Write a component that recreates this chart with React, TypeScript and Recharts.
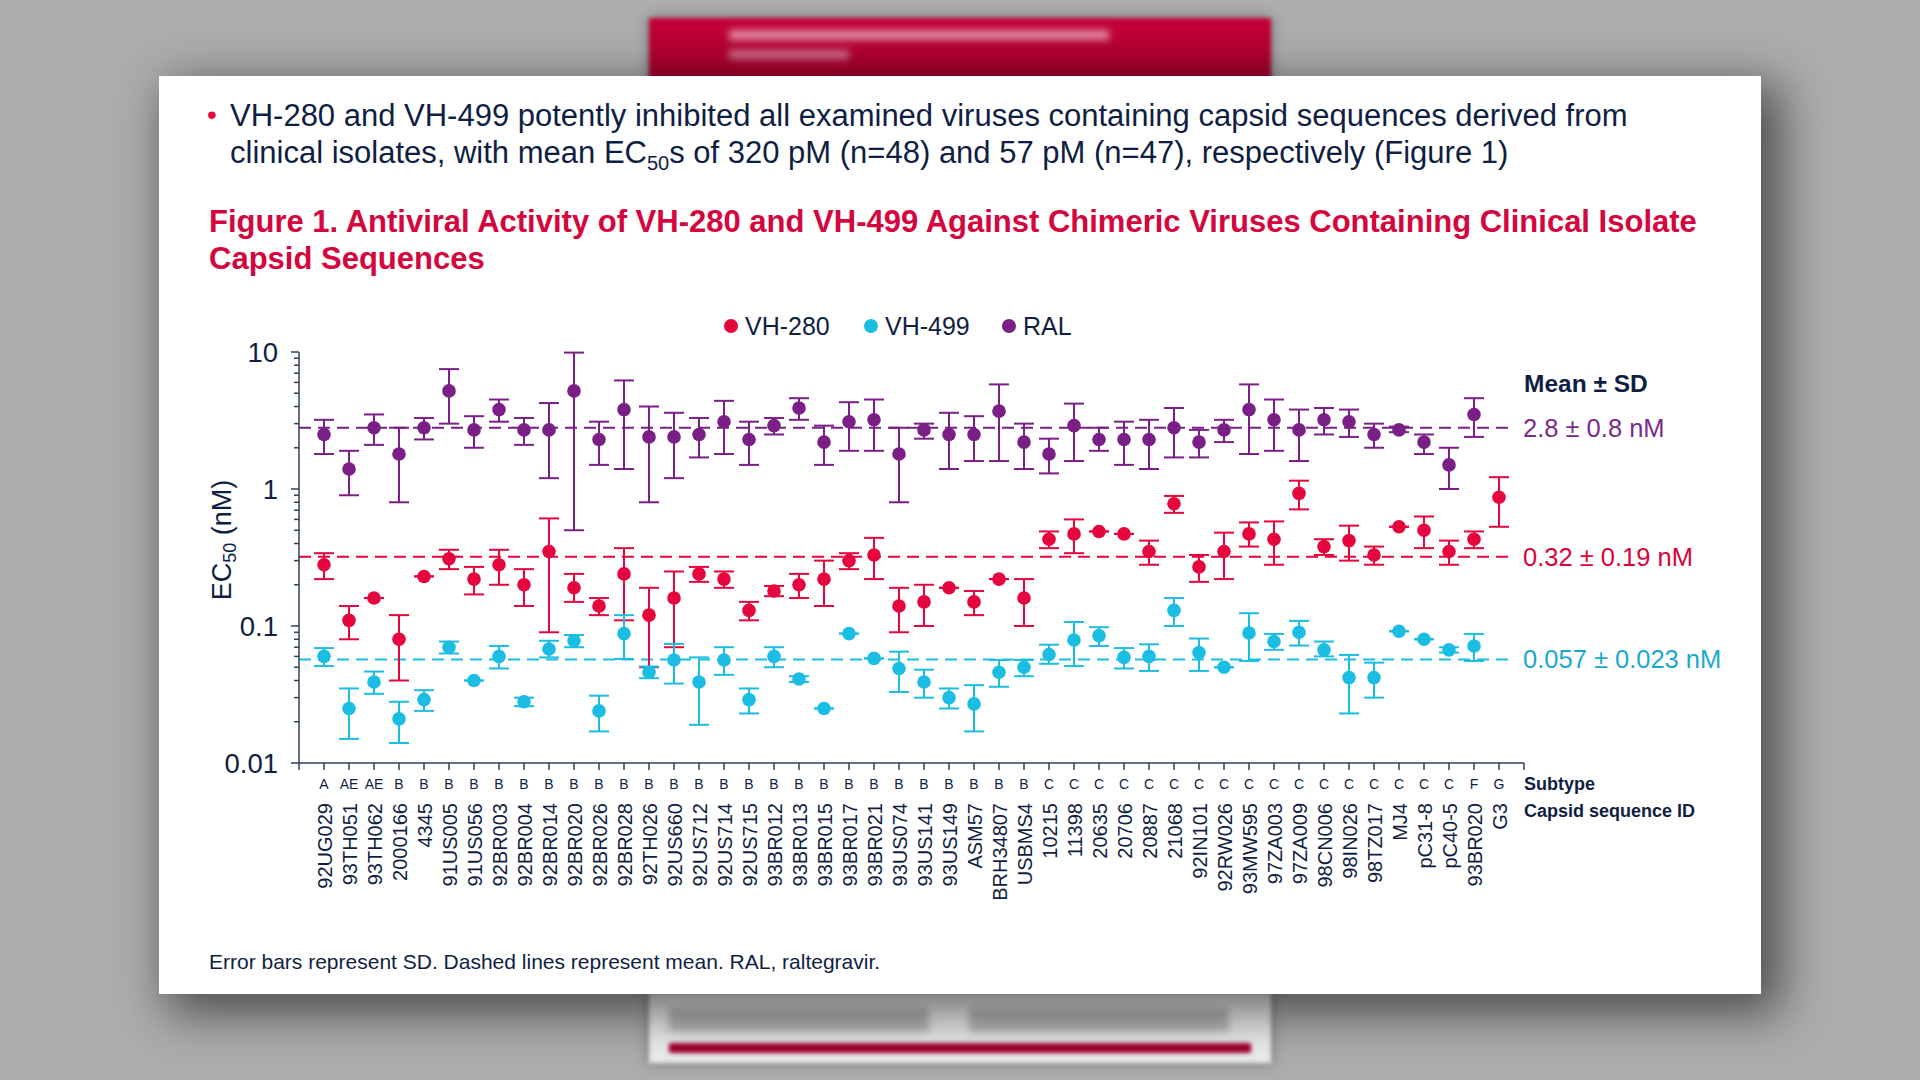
import React from 'react';
import { ScatterChart, Scatter, XAxis, YAxis, ErrorBar, ReferenceLine } from 'recharts';

const IDS = ['92UG029','93TH051','93TH062','2000166','4345','91US005','91US056','92BR003','92BR004','92BR014','92BR020','92BR026','92BR028','92TH026','92US660','92US712','92US714','92US715','93BR012','93BR013','93BR015','93BR017','93BR021','93US074','93US141','93US149','ASM57','BRH34807','USBMS4','10215','11398','20635','20706','20887','21068','92IN101','92RW026','93MW595','97ZA003','97ZA009','98CN006','98IN026','98TZ017','MJ4','pC31-8','pC40-5','93BR020','G3'];
const SUBTYPES = ['A','AE','AE','B','B','B','B','B','B','B','B','B','B','B','B','B','B','B','B','B','B','B','B','B','B','B','B','B','B','C','C','C','C','C','C','C','C','C','C','C','C','C','C','C','C','C','F','G'];

const VH280_MEAN = [0.28,0.11,0.16,0.080,0.23,0.31,0.22,0.28,0.20,0.35,0.19,0.14,0.24,0.12,0.16,0.24,0.22,0.13,0.18,0.20,0.22,0.30,0.33,0.14,0.15,0.19,0.15,0.22,0.16,0.43,0.47,0.49,0.47,0.35,0.78,0.27,0.35,0.47,0.43,0.93,0.38,0.42,0.33,0.53,0.50,0.35,0.43,0.87];
const VH280_LO = [0.22,0.080,null,0.040,null,0.26,0.17,0.20,0.14,0.090,0.15,0.12,0.11,0.050,0.070,0.21,0.19,0.11,0.165,0.16,0.14,0.26,0.22,0.090,0.10,null,0.12,null,0.10,0.37,0.34,null,null,0.28,0.67,0.21,0.22,0.38,0.28,0.71,0.33,0.30,0.28,null,0.37,0.28,0.37,0.53];
const VH280_HI = [0.34,0.14,null,0.12,null,0.36,0.27,0.36,0.26,0.61,0.24,0.16,0.37,0.19,0.25,0.27,0.25,0.15,0.196,0.24,0.30,0.34,0.44,0.19,0.20,null,0.18,null,0.22,0.49,0.60,null,null,0.42,0.89,0.33,0.48,0.57,0.58,1.15,0.43,0.54,0.38,null,0.63,0.42,0.49,1.22];

const VH499_MEAN = [0.060,0.025,0.039,0.021,0.029,0.070,0.040,0.060,0.028,0.068,0.078,0.024,0.088,0.046,0.0565,0.039,0.0565,0.029,0.060,0.041,0.025,0.088,0.058,0.049,0.039,0.030,0.027,0.046,0.050,0.062,0.079,0.085,0.059,0.060,0.13,0.064,0.050,0.089,0.077,0.090,0.067,0.042,0.042,0.0915,0.080,0.067,0.0715,null];
const VH499_LO = [0.051,0.015,0.032,0.014,0.024,0.063,null,0.049,0.026,0.059,0.070,0.017,0.0575,0.0416,0.038,0.019,0.044,0.023,0.050,0.039,null,null,null,0.033,0.030,0.025,0.017,0.036,0.043,0.053,0.051,0.0715,0.049,0.047,0.10,0.047,null,0.0556,0.067,0.072,0.060,0.023,0.030,null,null,0.064,0.0556,null];
const VH499_HI = [0.069,0.035,0.0465,0.028,0.034,0.077,null,0.0715,0.030,0.078,0.086,0.031,0.12,0.0506,0.074,0.059,0.070,0.035,0.070,0.043,null,null,null,0.065,0.048,0.035,0.037,0.0565,0.0565,0.073,0.107,0.098,0.069,0.0735,0.16,0.081,null,0.124,0.0875,0.109,0.077,0.0615,0.054,null,null,0.070,0.0875,null];

const RAL_MEAN = [2.5,1.4,2.8,1.8,2.8,5.2,2.7,3.8,2.7,2.7,5.2,2.3,3.8,2.4,2.4,2.5,3.1,2.3,2.9,3.9,2.2,3.1,3.2,1.8,2.7,2.5,2.5,3.7,2.2,1.8,2.9,2.3,2.3,2.3,2.8,2.2,2.7,3.8,3.2,2.7,3.2,3.1,2.5,2.7,2.2,1.5,3.5,null];
const RAL_LO = [1.8,0.9,2.1,0.8,2.3,3.0,2.0,3.1,2.1,1.2,0.5,1.5,1.4,0.8,1.2,1.7,1.8,1.5,2.5,3.2,1.5,1.9,1.9,0.8,2.33,1.4,1.6,1.6,1.4,1.3,1.6,1.9,1.5,1.4,1.7,1.7,2.2,1.8,1.9,1.6,2.5,2.4,2.0,2.6,1.8,1.0,2.4,null];
const RAL_HI = [3.2,1.9,3.5,2.8,3.3,7.5,3.4,4.5,3.3,4.24,9.9,3.1,6.2,4.0,3.6,3.3,4.4,3.1,3.3,4.6,2.9,4.3,4.5,2.8,3.0,3.6,3.4,5.8,3.0,2.33,4.2,2.8,3.1,3.2,3.9,2.7,3.2,5.8,4.5,3.8,3.9,3.8,3.0,2.85,2.5,2.0,4.6,null];

const MEANS = { ral: 2.8, vh280: 0.32, vh499: 0.057 };
const MEAN_LABELS = { ral: '2.8 ± 0.8 nM', vh280: '0.32 ± 0.19 nM', vh499: '0.057 ± 0.023 nM' };

const X_TICKS = [0,1,2,3,4,5,6,7,8,9,10,11,12,13,14,15,16,17,18,19,20,21,22,23,24,25,26,27,28,29,30,31,32,33,34,35,36,37,38,39,40,41,42,43,44,45,46,47,48,49];
const Y_TICKS = [0.01,0.02,0.03,0.04,0.05,0.06,0.07,0.08,0.09,0.1,0.2,0.3,0.4,0.5,0.6,0.7,0.8,0.9,1,2,3,4,5,6,7,8,9,10];
const Y_MAJOR = [0.01, 0.1, 1, 10];

const RED = '#e4063c';
const CYAN = '#1bbde2';
const PURPLE = '#7a1f86';
const NAVY = '#0f1e42';
const AXIS = '#33405a';
const FONT = '"Liberation Sans", Arial, Helvetica, sans-serif';

function buildRows(mean: (number | null)[], lo: (number | null)[], hi: (number | null)[]) {
  const rows: { x: number; y: number; err: number[] }[] = [];
  mean.forEach((v, i) => {
    if (v == null) return;
    const l = lo[i];
    const h = hi[i];
    rows.push({ x: i + 1, y: v, err: l == null || h == null ? [0, 0] : [v - l, h - v] });
  });
  return rows;
}

const vh280Rows = buildRows(VH280_MEAN, VH280_LO, VH280_HI);
const vh499Rows = buildRows(VH499_MEAN, VH499_LO, VH499_HI);
const ralRows = buildRows(RAL_MEAN, RAL_LO, RAL_HI);

const dot = (color: string) => (p: any) => <circle cx={p.cx} cy={p.cy} r={6.8} fill={color} />;

const XTick = (props: any) => {
  const { x, y, payload } = props;
  const i = payload.value as number;
  const tick = <line x1={x} x2={x} y1={y} y2={y + 7} stroke={AXIS} strokeWidth={1.5} />;
  if (i < 1 || i > 48) return <g>{tick}</g>;
  return (
    <g>
      {tick}
      <text x={x} y={y + 21} textAnchor="middle" dominantBaseline="central" fontSize={14} fill={NAVY} fontFamily={FONT}>{SUBTYPES[i - 1]}</text>
      <text transform={`translate(${x + 1},${y + 40}) rotate(-90)`} textAnchor="end" dominantBaseline="central" fontSize={20} fill={NAVY} fontFamily={FONT}>{IDS[i - 1]}</text>
    </g>
  );
};

const YTick = (props: any) => {
  const { x, y, payload } = props;
  const v = payload.value as number;
  const major = Y_MAJOR.includes(v);
  return (
    <g>
      <line x1={x - (major ? 8 : 5)} x2={x} y1={y} y2={y} stroke={AXIS} strokeWidth={1.5} />
      {major && (
        <text x={x - 21} y={y} textAnchor="end" dominantBaseline="central" fontSize={27.5} fill={NAVY} fontFamily={FONT}>{String(v)}</text>
      )}
    </g>
  );
};

const abs = (s: React.CSSProperties): React.CSSProperties => ({ position: 'absolute', whiteSpace: 'nowrap', fontFamily: FONT, ...s });

const LEGEND = [
  { name: 'VH-280', color: RED, dotX: 731 },
  { name: 'VH-499', color: CYAN, dotX: 871 },
  { name: 'RAL', color: PURPLE, dotX: 1009 },
];

export default function App() {
  return (
    <div style={{ position: 'absolute', left: 0, top: 0, width: 1920, height: 1080, overflow: 'hidden', background: '#adadad', fontFamily: FONT }}>
      {/* blurred poster behind */}
      <div style={abs({ left: 649, top: 18, width: 622, height: 1045, background: '#ececec', filter: 'blur(2px)', boxShadow: '0 0 12px rgba(0,0,0,0.35)' })}>
        <div style={{ position: 'absolute', left: 0, top: 0, width: 622, height: 62, background: 'linear-gradient(#c8003a, #a0002c)' }} />
        <div style={{ position: 'absolute', left: 80, top: 12, width: 380, height: 10, background: 'rgba(255,255,255,0.55)', filter: 'blur(3px)' }} />
        <div style={{ position: 'absolute', left: 80, top: 32, width: 120, height: 9, background: 'rgba(255,255,255,0.45)', filter: 'blur(3px)' }} />
        <div style={{ position: 'absolute', left: 20, top: 1025, width: 582, height: 10, background: '#a0002a' }} />
        <div style={{ position: 'absolute', left: 20, top: 990, width: 260, height: 24, background: 'rgba(90,90,90,0.35)', filter: 'blur(3px)' }} />
        <div style={{ position: 'absolute', left: 320, top: 990, width: 260, height: 24, background: 'rgba(90,90,90,0.35)', filter: 'blur(3px)' }} />
      </div>
      {/* white card */}
      <div style={abs({ left: 159, top: 76, width: 1602, height: 918, background: '#ffffff', boxShadow: '14px 14px 45px 6px rgba(0,0,0,0.55)' })} />

      {/* chart */}
      <div style={abs({ left: 0, top: 0 })}>
        <ScatterChart width={1920} height={1080} margin={{ top: 352, right: 396, bottom: 287, left: 239 }}>
          <XAxis
            type="number"
            dataKey="x"
            domain={[0, 49]}
            ticks={X_TICKS}
            interval={0}
            height={30}
            tickSize={0}
            tickMargin={0}
            tickLine={false}
            tick={<XTick />}
            axisLine={{ stroke: AXIS, strokeWidth: 1.5 }}
            allowDataOverflow
          />
          <YAxis
            type="number"
            dataKey="y"
            scale="log"
            domain={[0.01, 10]}
            ticks={Y_TICKS}
            interval={0}
            width={60}
            tickSize={0}
            tickMargin={0}
            tickLine={false}
            tick={<YTick />}
            axisLine={{ stroke: AXIS, strokeWidth: 1.5 }}
            allowDataOverflow
          />
          <ReferenceLine
            segment={[{ x: 0, y: MEANS.ral }, { x: 48.6, y: MEANS.ral }]}
            stroke={PURPLE}
            strokeWidth={2}
            strokeDasharray="12 7"
            label={{ value: MEAN_LABELS.ral, position: 'right', offset: 9, fill: '#7b2a8c', fontSize: 25.5, fontFamily: FONT }}
          />
          <ReferenceLine
            segment={[{ x: 0, y: MEANS.vh280 }, { x: 48.6, y: MEANS.vh280 }]}
            stroke={RED}
            strokeWidth={2}
            strokeDasharray="12 7"
            label={{ value: MEAN_LABELS.vh280, position: 'right', offset: 9, fill: '#d8053c', fontSize: 25.5, fontFamily: FONT }}
          />
          <ReferenceLine
            segment={[{ x: 0, y: MEANS.vh499 }, { x: 48.6, y: MEANS.vh499 }]}
            stroke={CYAN}
            strokeWidth={2}
            strokeDasharray="12 7"
            label={{ value: MEAN_LABELS.vh499, position: 'right', offset: 9, fill: '#1aa8cf', fontSize: 25.5, fontFamily: FONT }}
          />
          <Scatter name="RAL" data={ralRows} fill={PURPLE} shape={dot(PURPLE)} isAnimationActive={false}>
            <ErrorBar dataKey="err" direction="y" width={10} stroke={PURPLE} strokeWidth={2} />
          </Scatter>
          <Scatter name="VH-280" data={vh280Rows} fill={RED} shape={dot(RED)} isAnimationActive={false}>
            <ErrorBar dataKey="err" direction="y" width={10} stroke={RED} strokeWidth={2} />
          </Scatter>
          <Scatter name="VH-499" data={vh499Rows} fill={CYAN} shape={dot(CYAN)} isAnimationActive={false}>
            <ErrorBar dataKey="err" direction="y" width={10} stroke={CYAN} strokeWidth={2} />
          </Scatter>
        </ScatterChart>
      </div>

      {/* texts */}
      <div style={abs({ left: 207, top: 96, fontSize: 28, lineHeight: '37px', color: RED })}>•</div>
      <div style={abs({ left: 230, top: 97, fontSize: 31, lineHeight: '37px', color: NAVY })}>
        VH-280 and VH-499 potently inhibited all examined viruses containing capsid sequences derived from
      </div>
      <div style={abs({ left: 230, top: 134, fontSize: 31, lineHeight: '37px', color: NAVY })}>
        clinical isolates, with mean EC<sub style={{ fontSize: 20, verticalAlign: -7, lineHeight: 0 }}>50</sub>s of 320 pM (n=48) and 57 pM (n=47), respectively (Figure 1)
      </div>
      <div style={abs({ left: 209, top: 203, fontSize: 31, lineHeight: '37px', color: '#d5053e', fontWeight: 700 })}>
        Figure 1. Antiviral Activity of VH-280 and VH-499 Against Chimeric Viruses Containing Clinical Isolate
      </div>
      <div style={abs({ left: 209, top: 240, fontSize: 31, lineHeight: '37px', color: '#d5053e', fontWeight: 700 })}>
        Capsid Sequences
      </div>

      {/* legend */}
      {LEGEND.map((l) => (
        <React.Fragment key={l.name}>
          <div style={abs({ left: l.dotX - 7, top: 319, width: 14, height: 14, borderRadius: 7, background: l.color })} />
          <div style={abs({ left: l.dotX + 14, top: 311, fontSize: 25, lineHeight: '30px', color: NAVY })}>{l.name}</div>
        </React.Fragment>
      ))}

      {/* y label */}
      <div style={abs({ left: 222, top: 540, fontSize: 27, color: NAVY, transform: 'translate(-50%, -50%) rotate(-90deg)', lineHeight: '30px' })}>
        EC<sub style={{ fontSize: 18, verticalAlign: -5, lineHeight: 0 }}>50</sub> (nM)
      </div>

      <div style={abs({ left: 1524, top: 369, fontSize: 24.5, lineHeight: '30px', fontWeight: 700, color: NAVY })}>Mean ± SD</div>
      <div style={abs({ left: 1524, top: 773, fontSize: 18, lineHeight: '22px', fontWeight: 700, color: NAVY })}>Subtype</div>
      <div style={abs({ left: 1524, top: 800, fontSize: 18, lineHeight: '22px', fontWeight: 700, color: NAVY })}>Capsid sequence ID</div>

      <div style={abs({ left: 209, top: 949, fontSize: 21, lineHeight: '26px', color: NAVY })}>
        Error bars represent SD. Dashed lines represent mean. RAL, raltegravir.
      </div>
    </div>
  );
}
